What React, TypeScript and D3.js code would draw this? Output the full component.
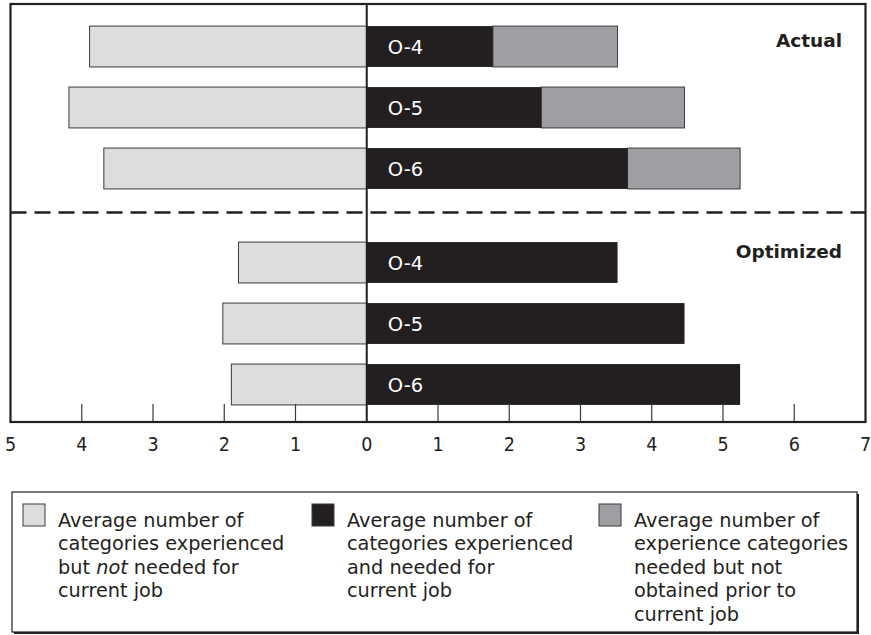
import React from "react";
import * as d3 from "d3";

const grades = ["O-4", "O-5", "O-6"];
const actualNotNeeded = [3.89, 4.18, 3.69];
const actualNeededHad = [1.77, 2.45, 3.66];
const actualNeededMissing = [1.75, 2.01, 1.58];
const optimizedNotNeeded = [1.8, 2.02, 1.9];
const optimizedNeeded = [3.52, 4.46, 5.24];
const tickValues = [-5, -4, -3, -2, -1, 0, 1, 2, 3, 4, 5, 6, 7];
const panelTitles = ["Actual", "Optimized"];
const legendItems = [
  { color: "#dcddde", lines: ["Average number of", "categories experienced", ["but ", "not", " needed for"], "current job"] },
  { color: "#231f20", lines: ["Average number of", "categories experienced", "and needed for", "current job"] },
  { color: "#9d9fa2", lines: ["Average number of", "experience categories", "needed but not", "obtained prior to", "current job"] },
];

const W = 871;
const H = 635;
const LIGHT = "#dcddde";
const DARK = "#231f20";
const MID = "#9d9fa2";
const FONT = "'DejaVu Sans', 'Open Sans', sans-serif";

export default function App() {
  const x = d3.scaleLinear().domain([-5, 7]).range([10.5, 865.5]);
  const frame = { top: 4, bottom: 422, left: x(-5), right: x(7) };
  const yActual = d3.scaleBand<string>().domain(grades).range([16, 199]).paddingInner(0.33).paddingOuter(0.165);
  const yOpt = d3.scaleBand<string>().domain(grades).range([232, 415]).paddingInner(0.33).paddingOuter(0.165);
  const x0 = x(0);

  const panels = [
    { y: yActual, left: actualNotNeeded, mid: actualNeededHad, right: actualNeededMissing, title: panelTitles[0], titleY: 47 },
    { y: yOpt, left: optimizedNotNeeded, mid: optimizedNeeded, right: null as number[] | null, title: panelTitles[1], titleY: 258 },
  ];

  const legendCols = [23, 312, 599];

  return (
    <svg width={W} height={H} style={{ position: "absolute", left: 0, top: 0, background: "#fff" }} fontFamily={FONT}>
      {panels.map((p, pi) => (
        <g key={pi}>
          {grades.map((g, i) => {
            const y0 = p.y(g)!;
            const bh = p.y.bandwidth();
            const midEnd = p.mid[i];
            return (
              <g key={g}>
                <rect x={x(-p.left[i])} y={y0} width={x0 - x(-p.left[i])} height={bh} fill={LIGHT} stroke="#3a3a3a" strokeWidth={1} />
                {p.right && (
                  <rect x={x(midEnd)} y={y0} width={x(midEnd + p.right[i]) - x(midEnd)} height={bh} fill={MID} stroke="#3a3a3a" strokeWidth={1} />
                )}
                <rect x={x0} y={y0} width={x(midEnd) - x0} height={bh} fill={DARK} />
                <text x={x0 + 21} y={y0 + bh / 2 + 7} fill="#fff" fontSize={19.5}>{g}</text>
              </g>
            );
          })}
          <text x={842} y={p.titleY} textAnchor="end" fontWeight="bold" fontSize={18.5} fill={DARK}>{p.title}</text>
        </g>
      ))}
      <line x1={frame.left} x2={frame.right} y1={212.5} y2={212.5} stroke={DARK} strokeWidth={2.5} strokeDasharray="16 8" />
      <line x1={x0} x2={x0} y1={frame.top} y2={frame.bottom} stroke={DARK} strokeWidth={2} />
      {tickValues.filter((t) => t !== 0 && t !== -5 && t !== 7).map((t) => (
        <line key={t} x1={x(t)} x2={x(t)} y1={404} y2={frame.bottom} stroke="#3a3a3a" strokeWidth={1.2} />
      ))}
      <rect x={frame.left} y={frame.top} width={frame.right - frame.left} height={frame.bottom - frame.top} fill="none" stroke={DARK} strokeWidth={2.2} />
      {tickValues.map((t) => (
        <text key={t} x={x(t)} y={451} textAnchor="middle" fontSize={19.5} fill={DARK} fontFamily="'Liberation Sans Narrow', 'DejaVu Sans Condensed', sans-serif">
          {Math.abs(t)}
        </text>
      ))}
      <rect x={14} y={494} width={845} height={140} fill={DARK} />
      <rect x={12} y={492} width={845} height={140} fill="#fff" stroke={DARK} strokeWidth={1.2} />
      {legendItems.map((item, i) => (
        <g key={i}>
          <rect x={legendCols[i]} y={504} width={22} height={22} fill={item.color} stroke="#3a3a3a" strokeWidth={1} />
          {item.lines.map((ln, j) => (
            <text key={j} x={legendCols[i] + 35} y={527 + j * 23.4} fontSize={19.3} fill={DARK}>
              {Array.isArray(ln)
                ? ln.map((s, k) => (
                    <tspan key={k} fontStyle={k === 1 ? "italic" : "normal"}>{s}</tspan>
                  ))
                : ln}
            </text>
          ))}
        </g>
      ))}
    </svg>
  );
}
